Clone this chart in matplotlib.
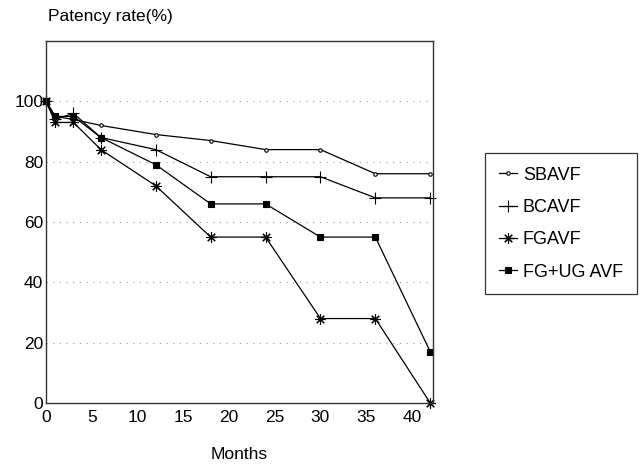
import matplotlib
matplotlib.use("Agg")
import matplotlib.pyplot as plt

months = [0, 1, 3, 6, 12, 18, 24, 30, 36, 42]
sbavf = [100, 95, 94, 92, 89, 87, 84, 84, 76, 76]
bcavf = [100, 94, 96, 88, 84, 75, 75, 75, 68, 68]
fgavf = [100, 93, 93, 84, 72, 55, 55, 28, 28, 0]
fgug = [100, 95, 95, 88, 79, 66, 66, 55, 55, 17]
series_names = ["SBAVF", "BCAVF", "FGAVF", "FG+UG AVF"]
xticks = [0, 5, 10, 15, 20, 25, 30, 35, 40]
yticks = [0, 20, 40, 60, 80, 100]

plt.rcParams['font.family'] = ['Liberation Sans', 'DejaVu Sans']

fig = plt.figure(figsize=(6.43, 4.66), dpi=100)
ax = fig.add_axes([46/643, 63/466, (433-46)/643, (403-41)/466])

markers = [dict(marker='o', ms=2.5, mfc='white', mew=0.8),
           dict(marker='+', ms=8, mew=0.8),
           dict(marker=(8, 2, 0), ms=7.5, mew=0.8),
           dict(marker='s', ms=4.5, mfc='black', mew=0.8)]
for vals, name, mk in zip([sbavf, bcavf, fgavf, fgug], series_names, markers):
    ax.plot(months, vals, color='black', lw=0.9, label=name, clip_on=False, **mk)

ax.set_xlim(0, 42.3)
ax.set_ylim(0, 120)
ax.set_xticks(xticks)
ax.set_yticks(yticks)
ax.tick_params(length=0, labelsize=12.5, pad=5)
ax.tick_params(axis='y', pad=2)
for y in yticks[1:]:
    ax.axhline(y, color='#999999', lw=0.8, ls=(0, (1, 5)), zorder=0)
for s in ax.spines.values():
    s.set_linewidth(1.0)
    s.set_color('#333333')

ax.set_xlabel("Months", fontsize=12.5, labelpad=16)
fig.text(48/643, 1 - 16/466, "Patency rate(%)", fontsize=12.5, ha='left', va='center')

leg = fig.legend(loc='upper left', bbox_to_anchor=(485/643, 1 - 153/466),
                 borderaxespad=0, frameon=True, fancybox=False, edgecolor='black',
                 fontsize=13, handlelength=1.0, labelspacing=0.85, borderpad=0.75,
                 handletextpad=0.35)
leg.get_frame().set_linewidth(0.9)

fig.savefig("out.png", dpi=100)
